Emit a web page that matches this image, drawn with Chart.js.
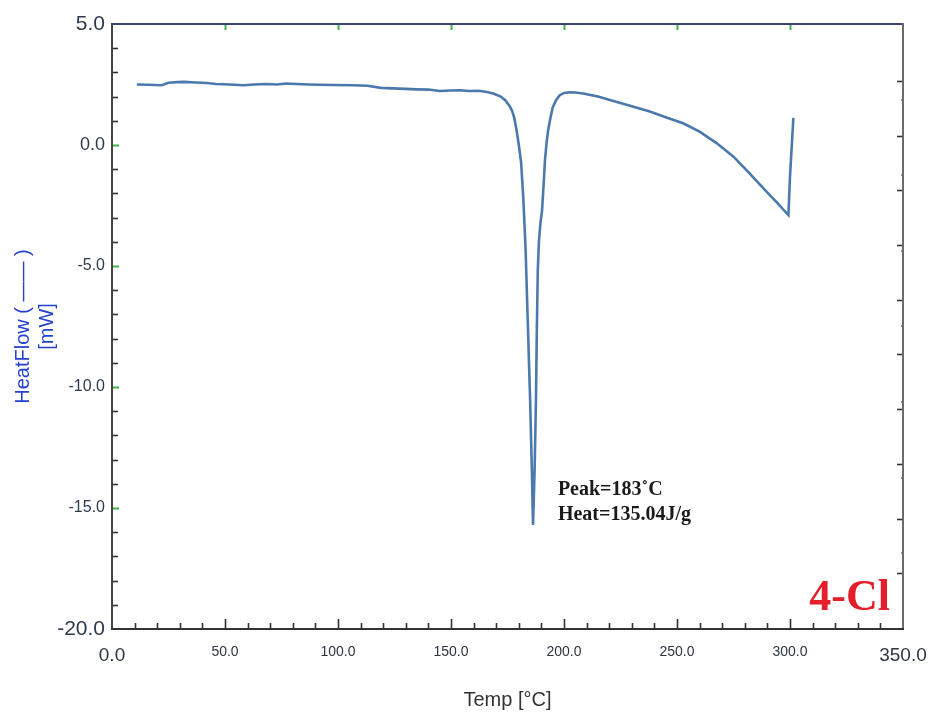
<!DOCTYPE html>
<html>
<head>
<meta charset="utf-8">
<script src="https://cdn.jsdelivr.net/npm/chart.js@4.4.0/dist/chart.umd.min.js"></script>
<style>
    html, body { margin: 0; padding: 0; background: #fff; }
</style>
</head>
<body>
<canvas id="dsc" width="935" height="717"></canvas>
<script>
// DSC trace: temperature (°C) vs heat flow (mW)
const temps = [11, 16, 22, 25, 29, 32, 37, 42, 46, 52,
    58, 63, 68, 73, 77, 84, 91, 98, 107, 113,
    119, 127, 135, 140, 145, 150, 154, 158, 162, 166,
    169, 172, 174, 176, 177, 178, 179, 180, 181, 182,
    183, 184, 185, 185.8, 186.3, 187, 187.6, 188.0, 188.4, 188.9,
    189.6, 190.3, 191, 191.6, 192.3, 193, 194, 195, 196.5, 198,
    200, 202.6, 205, 208.5, 215, 223, 230, 238, 245, 252.7,
    260, 267.5, 275, 282, 289.6, 295, 298.5, 299.3, 300, 300.8, 301.5];
const heatFlow = [2.50, 2.49, 2.47, 2.57, 2.60, 2.61, 2.58, 2.56, 2.52, 2.50,
    2.47, 2.50, 2.52, 2.50, 2.54, 2.51, 2.49, 2.48, 2.47, 2.45,
    2.36, 2.33, 2.30, 2.29, 2.23, 2.25, 2.26, 2.23, 2.24, 2.19,
    2.12, 2.0, 1.85, 1.6, 1.42, 1.12, 0.62, 0.0, -0.7, -2.2,
    -4.3, -7.4, -10.5, -13.5, -15.7, -13.4, -10.5, -7.5, -5.2, -4.0,
    -3.2, -2.7, -1.6, -0.6, 0.1, 0.62, 1.12, 1.55, 1.85, 2.05,
    2.15, 2.18, 2.17, 2.13, 2.0, 1.79, 1.6, 1.38, 1.15, 0.9,
    0.55, 0.08, -0.48, -1.16, -1.93, -2.45, -2.82, -2.9, -1.3, 0.0, 1.12];

// axis ranges
const xRange = [0, 350];
const xStep = 50;
const xMinorStep = 10;
const yRange = [-20, 5];
const yStep = 5;
const yMinorStep = 1;

// text on the plot
const peakText = ["Peak=183˚C", "Heat=135.04J/g"];
const peakAt = [197.3, -14.46]; // temp, heatflow where the note starts
const sampleName = "4-Cl";

//----------------------frame + inward ticks-----------------------------//
function seg(ctx, x1, y1, x2, y2, color, w) {
    ctx.strokeStyle = color;
    ctx.lineWidth = w;
    ctx.beginPath();
    ctx.moveTo(x1, y1);
    ctx.lineTo(x2, y2);
    ctx.stroke();
}

const frameTicks = {
    id: "frameTicks",
    afterDraw(chart) {
        const { ctx, chartArea: a, scales: { x, y } } = chart;
        ctx.save();
        const green = "#3fb24a";
        const h = a.bottom - a.top;

        // bottom ticks (black, long at majors)
        for (let v = xRange[0] + xMinorStep; v < xRange[1]; v += xMinorStep) {
            const px = Math.round(x.getPixelForValue(v)) + 0.5;
            const len = v % xStep === 0 ? 10 : 6;
            seg(ctx, px, a.bottom, px, a.bottom - len, "#333", 1.6);
            // top ticks (green, majors only)
            if (v % xStep === 0) seg(ctx, px, a.top, px, a.top + 6, green, 2);
        }

        // left ticks: black minors, green majors
        for (let v = yRange[0] + yMinorStep; v < yRange[1]; v += yMinorStep) {
            const py = Math.round(y.getPixelForValue(v)) + 0.5;
            if (v % yStep === 0) seg(ctx, a.left, py, a.left + 7, py, green, 2);
            else seg(ctx, a.left, py, a.left + 6, py, "#333", 1.6);
        }

        // right side ticks belong to another (hidden) scale in the original
        for (let k = 0; k < 10; k++) {
            const py = Math.round(a.top + h * (0.0942 + k * 0.0904)) + 0.5;
            seg(ctx, a.right, py, a.right - 6, py, "#333", 1.6);
        }
        for (let k = 0; k < 7; k++) {
            const py = Math.round(a.top + h * (0.1256 + k * 0.1248));
            seg(ctx, a.right - 2, py, a.right + 1, py, green, 1.6);
        }

        // frame
        seg(ctx, a.left, a.top, a.right, a.top, "#3c4470", 2);
        seg(ctx, a.right, a.top - 1, a.right, a.bottom, "#6b6b6b", 2);
        seg(ctx, a.left, a.top - 1, a.left, a.bottom + 1, "#444", 2);
        seg(ctx, a.left - 1, a.bottom, a.right + 1, a.bottom, "#333", 2);
        ctx.restore();
    },
};

//----------------------annotations-----------------------------//
const notes = {
    id: "notes",
    afterDatasetsDraw(chart) {
        const { ctx, chartArea: a, scales: { x, y } } = chart;
        ctx.save();
        ctx.fillStyle = "#1a1a1a";
        ctx.font = "bold 20px 'Liberation Serif', 'Times New Roman', serif";
        ctx.textAlign = "left";
        ctx.textBaseline = "alphabetic";
        const tx = x.getPixelForValue(peakAt[0]);
        const ty = y.getPixelForValue(peakAt[1]);
        peakText.forEach((t, i) => ctx.fillText(t, tx, ty + i * 25));

        ctx.fillStyle = "#e3202a";
        ctx.font = "bold 44px 'Liberation Serif', 'Times New Roman', serif";
        ctx.textAlign = "right";
        ctx.fillText(sampleName, a.right - 13, a.bottom - 19);
        ctx.restore();
    },
};

const tickFontX = (c) => {
    const v = c.tick ? c.tick.value : 0;
    const big = v === xRange[0] || v === xRange[1];
    return { family: "'Liberation Sans', Arial, sans-serif", size: big ? 19 : 14 };
};
const tickFontY = (c) => {
    const v = c.tick ? c.tick.value : 0;
    let size = 16;
    if (v === yRange[0] || v === yRange[1]) size = 21;
    else if (v === 0) size = 18;
    return { family: "'Liberation Sans', Arial, sans-serif", size: size };
};

new Chart(document.getElementById("dsc"), {
    type: "line",
    data: {
        datasets: [
            {
                label: "HeatFlow",
                data: temps.map((t, i) => ({ x: t, y: heatFlow[i] })),
                borderColor: "#4b79ad",
                borderWidth: 2.6,
                pointRadius: 0,
                tension: 0,
                fill: false,
            },
        ],
    },
    options: {
        responsive: false,
        animation: false,
        devicePixelRatio: 1,
        layout: { padding: { top: 24, right: 32, bottom: 0, left: 0 } },
        plugins: { legend: { display: false }, tooltip: { enabled: false } },
        scales: {
            x: {
                type: "linear",
                min: xRange[0],
                max: xRange[1],
                afterFit: (s) => {
                    s.height = 88;
                    s.paddingLeft = 0;
                    s.paddingRight = 0;
                },
                grid: { display: false, drawTicks: false },
                border: { display: false },
                ticks: {
                    stepSize: xStep,
                    padding: 15,
                    maxRotation: 0,
                    autoSkip: false,
                    color: "#2e3440",
                    font: tickFontX,
                    callback: (v) => v.toFixed(1),
                },
                title: {
                    display: true,
                    text: "Temp [°C]",
                    color: "#333",
                    font: { family: "'Liberation Sans', Arial, sans-serif", size: 20 },
                    padding: { top: 0, bottom: 5 },
                },
            },
            y: {
                type: "linear",
                min: yRange[0],
                max: yRange[1],
                afterFit: (s) => {
                    s.width = 112;
                    s.paddingTop = 0;
                    s.paddingBottom = 0;
                },
                grid: { display: false, drawTicks: false },
                border: { display: false },
                ticks: {
                    stepSize: yStep,
                    padding: 7,
                    color: "#2e3a4e",
                    font: tickFontY,
                    callback: (v) => v.toFixed(1),
                },
                title: {
                    display: true,
                    text: ["HeatFlow ( —— )", "[mW]"],
                    color: "#2442cf",
                    font: { family: "'Liberation Sans', Arial, sans-serif", size: 20 },
                    padding: { top: 11, bottom: 0 },
                },
            },
        },
    },
    plugins: [frameTicks, notes],
});
</script>
</body>
</html>
